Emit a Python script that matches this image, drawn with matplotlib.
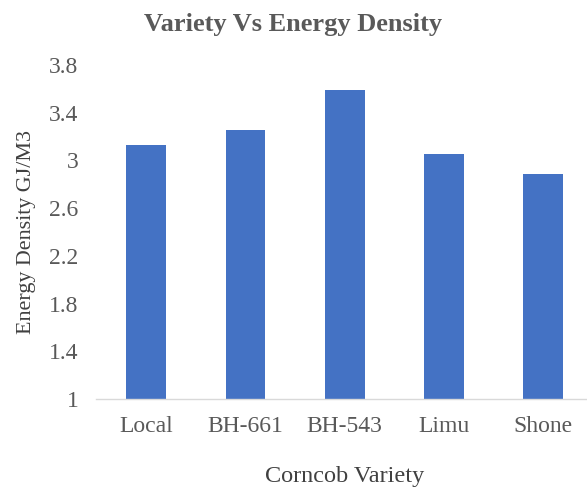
import matplotlib.pyplot as plt
import numpy as np

# data
varieties = ['Local', 'BH-661', 'BH-543', 'Limu', 'Shone']
energy_density = [3.13, 3.255, 3.59, 3.056, 2.886]
y_ticks = [1, 1.4, 1.8, 2.2, 2.6, 3, 3.4, 3.8]

plt.rcParams['font.family'] = ['Liberation Serif', 'DejaVu Serif']

W, H = 587, 488
fig = plt.figure(figsize=(W / 100, H / 100), dpi=100)

# plot area in pixels (Excel-like layout, category axis runs off the right edge)
left, right, top, bottom = 96.4, 593.0, 65.0, 399.0
ax = fig.add_axes([left / W, (H - bottom) / H, (right - left) / W, (bottom - top) / H])

x = np.arange(len(varieties))
ax.bar(x, energy_density, width=0.4, color='#4472C4', zorder=2)

ax.set_xlim(-0.5, len(varieties) - 0.5)
ax.set_ylim(1, 3.8)
ax.set_yticks(y_ticks)
ax.set_yticklabels([f'{t:g}' for t in y_ticks])
ax.set_xticks(x)
ax.set_xticklabels(varieties)

for side in ['top', 'right', 'left']:
    ax.spines[side].set_visible(False)
ax.spines['bottom'].set_color('#d9d9d9')
ax.spines['bottom'].set_linewidth(1.0)

ax.tick_params(axis='both', length=0, labelsize=17, colors='#595959')
ax.tick_params(axis='y', pad=13)
ax.tick_params(axis='x', pad=12)

ax.set_xlabel('Corncob Variety', fontsize=17.5, color='#404040', labelpad=21)
ax.set_ylabel('Energy Density GJ/M3', fontsize=15.8, color='#404040', labelpad=9)

fig.text(0.5, 1 - 25 / H, 'Variety Vs Energy Density', ha='center', va='center',
         fontsize=19, fontweight='bold', color='#595959')

plt.savefig('out.png', dpi=100)
